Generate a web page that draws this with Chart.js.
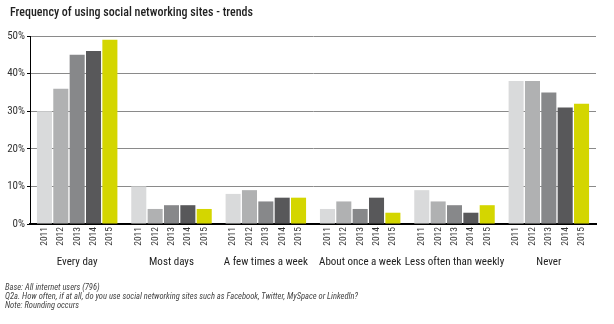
<!DOCTYPE html>
<html><head><meta charset="utf-8">
<script src="https://cdn.jsdelivr.net/npm/chart.js@4/dist/chart.umd.min.js"></script>
<style>
html,body{margin:0;padding:0;background:#fff;}
#wrap{position:relative;width:614px;height:324px;font-family:'Roboto Condensed','Roboto',sans-serif;}
canvas{position:absolute;left:0;top:0;}
#title{position:absolute;left:10px;top:5px;font-size:12px;color:#222;font-weight:500;white-space:nowrap;}
.note{position:absolute;left:5px;font-size:8.5px;line-height:10px;font-style:italic;color:#444;white-space:nowrap;}
</style></head><body>
<div id="wrap">
<canvas id="c" width="614" height="324"></canvas>
<div id="title">Frequency of using social networking sites - trends</div>
<div class="note" style="top:282px">Base: All internet users (796)</div>
<div class="note" style="top:291px">Q2a. How often, if at all, do you use social networking sites such as Facebook, Twitter, MySpace or LinkedIn?</div>
<div class="note" style="top:300px">Note: Rounding occurs</div>
</div>
<script>
const categories = ["Every day","Most days","A few times a week","About once a week","Less often than weekly","Never"];
const years = ["2011","2012","2013","2014","2015"];
const v2011 = [30,10,8,4,9,38];
const v2012 = [36,4,9,6,6,38];
const v2013 = [45,5,6,4,5,35];
const v2014 = [46,5,7,7,3,31];
const v2015 = [49,4,7,3,5,32];
const yTicks = [0,10,20,30,40,50];
const colors = ["#d9dadb","#b0b1b2","#87888a","#58585a","#d4d600"];
const series = [v2011,v2012,v2013,v2014,v2015];
const FONT = "'Roboto Condensed', Roboto, sans-serif";

const yearLabels = {
  id:'yearLabels',
  afterDatasetsDraw(chart){
    const ctx = chart.ctx;
    const bottom = chart.chartArea.bottom;
    ctx.save();
    ctx.font = "9.5px " + FONT;
    ctx.fillStyle = "#333";
    chart.data.datasets.forEach((ds,i)=>{
      chart.getDatasetMeta(i).data.forEach(bar=>{
        ctx.save();
        ctx.translate(bar.x, bottom + 3);
        ctx.rotate(-Math.PI/2);
        ctx.textAlign = 'right';
        ctx.textBaseline = 'middle';
        ctx.fillText(ds.label, 0, 0);
        ctx.restore();
      });
    });
    ctx.restore();
  }
};

new Chart(document.getElementById('c'), {
  type:'bar',
  data:{
    labels: categories,
    datasets: years.map((y,i)=>({label:y, data:series[i], backgroundColor:colors[i], borderWidth:0}))
  },
  options:{
    responsive:false, animation:false,
    layout:{padding:{top:36,left:0,right:18,bottom:0}},
    datasets:{bar:{categoryPercentage:0.867, barPercentage:0.92}},
    plugins:{legend:{display:false}, tooltip:{enabled:false}},
    scales:{
      x:{
        grid:{display:false, drawTicks:false},
        border:{color:'#000', width:2},
        ticks:{padding:32, color:'#222', font:{size:11, family:FONT}, maxRotation:0, autoSkip:false},
        afterFit(s){ s.height = 100; }
      },
      y:{
        min:0, max:50,
        afterBuildTicks(s){ s.ticks = yTicks.map(v=>({value:v})); },
        grid:{color:'#8a8a8a', lineWidth:1, tickLength:3, tickColor:'#000'},
        border:{color:'#000', width:1},
        ticks:{color:'#333', padding:2, font:{size:11, family:FONT}, callback:v=>v+'%'},
        afterFit(s){ s.width = 30; }
      }
    }
  },
  plugins:[yearLabels]
});
</script>
</body></html>
